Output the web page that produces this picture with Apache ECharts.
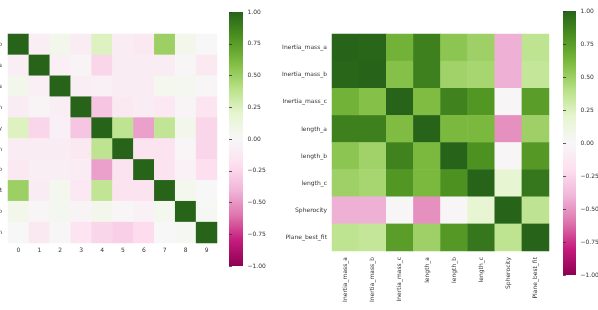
<!DOCTYPE html>
<html>
<head>
<meta charset="utf-8">
<script src="https://cdn.jsdelivr.net/npm/echarts@6/dist/echarts.min.js"></script>
<style>html,body{margin:0;padding:0;background:#fff}#c{width:598px;height:310px}</style>
</head>
<body>
<div id="c"></div>
<script>
// ---- data ----
const leftXLabels = ['0','1','2','3','4','5','6','7','8','9'];
const leftYLabels = ['b','a','a','n','y','n','b','t','b','h'];
const leftMatrix = [
  [ 1.00,-0.08, 0.06,-0.10, 0.24,-0.10,-0.12, 0.50, 0.06, 0.00],
  [-0.08, 1.00,-0.07,-0.03,-0.25,-0.10,-0.10,-0.10,-0.02,-0.12],
  [ 0.06,-0.07, 1.00,-0.08,-0.06,-0.10,-0.10, 0.05, 0.04,-0.02],
  [-0.10,-0.03,-0.08, 1.00,-0.33,-0.12,-0.10,-0.13,-0.03,-0.16],
  [ 0.24,-0.25,-0.06,-0.33, 1.00, 0.37,-0.47, 0.36, 0.06,-0.25],
  [-0.10,-0.10,-0.10,-0.12, 0.37, 1.00,-0.17,-0.17,-0.02,-0.25],
  [-0.12,-0.08,-0.08,-0.10,-0.47,-0.17, 1.00,-0.17,-0.05,-0.20],
  [ 0.50,-0.10, 0.05,-0.13, 0.36,-0.17,-0.17, 1.00, 0.05, 0.00],
  [ 0.06,-0.02, 0.04,-0.03, 0.06,-0.02,-0.05, 0.05, 1.00, 0.02],
  [ 0.00,-0.12,-0.02,-0.16,-0.25,-0.28,-0.22, 0.00, 0.02, 1.00]
];
const rightLabels = ['Inertia_mass_a','Inertia_mass_b','Inertia_mass_c','length_a','length_b','length_c','Spherocity','Plane_best_fit'];
const rightMatrix = [
  [ 1.00, 0.99, 0.65, 0.88, 0.55, 0.49,-0.42, 0.37],
  [ 0.99, 1.00, 0.58, 0.88, 0.48, 0.46,-0.42, 0.35],
  [ 0.65, 0.58, 1.00, 0.60, 0.87, 0.78,-0.02, 0.75],
  [ 0.88, 0.88, 0.60, 1.00, 0.62, 0.62,-0.52, 0.49],
  [ 0.55, 0.48, 0.87, 0.62, 1.00, 0.80,-0.02, 0.77],
  [ 0.49, 0.46, 0.78, 0.62, 0.80, 1.00, 0.19, 0.92],
  [-0.42,-0.42,-0.02,-0.52,-0.02, 0.19, 1.00, 0.37],
  [ 0.37, 0.35, 0.75, 0.49, 0.77, 0.92, 0.37, 1.00]
];
const colorbarMin = -1, colorbarMax = 1, colorbarStep = 0.25;
const piyg = ['#8e0152','#c51b7d','#de77ae','#f1b6da','#fde0ef','#f7f7f7','#e6f5d0','#b8e186','#7fbc41','#4d9221','#276419'];

// ---- build ----
function toCells(m){ const out=[]; m.forEach((row,i)=>row.forEach((v,j)=>out.push([j,i,v]))); return out; }
const font = 'DejaVu Sans';
const txt = '#333';
const grad = new echarts.graphic.LinearGradient(0,1,0,0, piyg.map((c,i)=>({offset:i/(piyg.length-1), color:c})));
function cbLabel(v){ const s=Math.abs(v).toFixed(2); return (v<0?'\u2212':'')+s; }

const chart = echarts.init(document.getElementById('c'), null, {renderer:'canvas'});
chart.setOption({
  animation:false,
  backgroundColor:'#fff',
  textStyle:{fontFamily:font},
  grid:[
    {left:8, top:34, width:209, height:209, outerBoundsMode:'none', containLabel:false},
    {left:332, top:34, width:217, height:217, outerBoundsMode:'none', containLabel:false},
    {left:229, top:12, width:14, height:254, show:true, borderWidth:0, backgroundColor:grad, outerBoundsMode:'none', containLabel:false},
    {left:563, top:11, width:13, height:264, show:true, borderWidth:0, backgroundColor:grad, outerBoundsMode:'none', containLabel:false}
  ],
  xAxis:[
    {gridIndex:0, type:'category', data:leftXLabels, axisLine:{show:false}, axisTick:{show:false},
     axisLabel:{fontSize:6, color:txt, margin:4.5, fontFamily:font}, splitLine:{show:false}},
    {gridIndex:1, type:'category', data:rightLabels, axisLine:{show:false}, axisTick:{show:false},
     axisLabel:{fontSize:6, color:txt, margin:6, rotate:90, interval:0, fontFamily:font}, splitLine:{show:false}},
    {gridIndex:2, type:'value', show:false},
    {gridIndex:3, type:'value', show:false}
  ],
  yAxis:[
    {gridIndex:0, type:'category', data:leftYLabels, inverse:true, axisLine:{show:false}, axisTick:{show:false},
     axisLabel:{fontSize:6, color:txt, margin:6, fontFamily:font}, splitLine:{show:false}},
    {gridIndex:1, type:'category', data:rightLabels, inverse:true, axisLine:{show:false}, axisTick:{show:false},
     axisLabel:{fontSize:6, color:txt, margin:5, interval:0, fontFamily:font}, splitLine:{show:false}},
    {gridIndex:2, type:'value', position:'right', min:colorbarMin, max:colorbarMax, interval:colorbarStep,
     axisLine:{show:false}, axisTick:{show:true, length:3, lineStyle:{color:'#333', width:0.8}},
     axisLabel:{fontSize:6, color:txt, margin:4.5, formatter:cbLabel, fontFamily:font}, splitLine:{show:false}},
    {gridIndex:3, type:'value', position:'right', min:colorbarMin, max:colorbarMax, interval:colorbarStep,
     axisLine:{show:false}, axisTick:{show:true, length:3, lineStyle:{color:'#333', width:0.8}},
     axisLabel:{fontSize:6, color:txt, margin:4.5, formatter:cbLabel, fontFamily:font}, splitLine:{show:false}}
  ],
  visualMap:[
    {show:false, type:'continuous', seriesIndex:0, min:colorbarMin, max:colorbarMax, inRange:{color:piyg}},
    {show:false, type:'continuous', seriesIndex:1, min:colorbarMin, max:colorbarMax, inRange:{color:piyg}}
  ],
  series:[
    {type:'heatmap', xAxisIndex:0, yAxisIndex:0, data:toCells(leftMatrix), itemStyle:{borderWidth:0}, emphasis:{disabled:true}, silent:true},
    {type:'heatmap', xAxisIndex:1, yAxisIndex:1, data:toCells(rightMatrix), itemStyle:{borderWidth:0}, emphasis:{disabled:true}, silent:true}
  ]
});
</script>
</body>
</html>
